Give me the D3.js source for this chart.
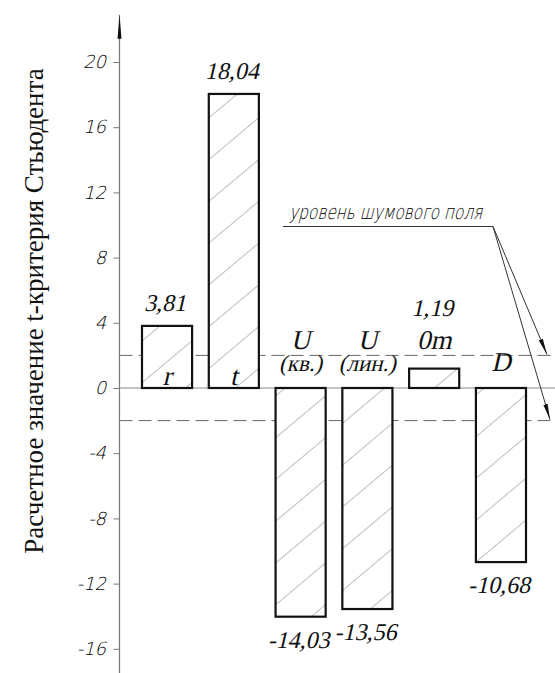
<!DOCTYPE html>
<html>
<head>
<meta charset="utf-8">
<script src="https://cdn.jsdelivr.net/npm/d3@7"></script>
<style>
  body { margin: 0; background: #fff; }
  .serif { font-family: "Liberation Serif", "Times New Roman", serif; }
  .gost { font-family: "DejaVu Sans", sans-serif; font-weight: 200; }
</style>
</head>
<body>
<div class="vis-tchart"></div>
<script>
// data
const categories = ['r', 't', 'U_kv', 'U_lin', 'Ot', 'D'];
const categoryLabels = [['r'], ['t'], ['U', '(кв.)'], ['U', '(лин.)'], ['0m'], ['D']];
const tValues = [3.81, 18.04, -14.03, -13.56, 1.19, -10.68];
const yTicks = [-16, -12, -8, -4, 0, 4, 8, 12, 16, 20];
const noiseLevel = [2, -2];
const noiseText = 'уровень шумового поля';
const yTitle = 'Расчетное значение t-критерия Стьюдента';

// fake italic: serif face skewed, since no italic serif face is installed
const slanted = (sel, px, py, txt, size) => {
    sel.append('g')
        .attr('transform', 'translate(' + px + ',' + py + ')')
        .append('text')
        .attr('class', 'serif')
        .attr('transform', 'skewX(-13)')
        .attr('text-anchor', 'middle')
        .style('font-size', size)
        .attr('fill', '#111')
        .text(txt);
};

const draw = () => {
    const width = 555, height = 673;
    const axisX = 119.5;

    const svg = d3.select('.vis-tchart')
        .append('svg')
        .attr('width', width)
        .attr('height', height);

    const defs = svg.append('defs');

    // hatching for the bars
    const hatch = defs.append('pattern')
        .attr('id', 'hatch')
        .attr('patternUnits', 'userSpaceOnUse')
        .attr('width', 32)
        .attr('height', 32)
        .attr('patternTransform', 'rotate(50)');
    hatch.append('rect').attr('width', 32).attr('height', 32).attr('fill', '#fff');
    hatch.append('line')
        .attr('x1', 0).attr('y1', 0).attr('x2', 0).attr('y2', 32)
        .attr('stroke', '#8a8a8a')
        .attr('stroke-width', 1.1);

    defs.append('marker')
        .attr('id', 'arrow')
        .attr('markerUnits', 'userSpaceOnUse')
        .attr('markerWidth', 16).attr('markerHeight', 6)
        .attr('refX', 16).attr('refY', 3)
        .attr('orient', 'auto')
        .append('path')
        .attr('d', 'M0,0.8 L16,3 L0,5.2 Z')
        .attr('fill', '#111');

    defs.append('marker')
        .attr('id', 'axisArrow')
        .attr('markerUnits', 'userSpaceOnUse')
        .attr('markerWidth', 24).attr('markerHeight', 8)
        .attr('refX', 24).attr('refY', 4)
        .attr('orient', 'auto')
        .append('path')
        .attr('d', 'M0,2 L24,4 L0,6 Z')
        .attr('fill', '#111');

    const y = d3.scaleLinear()
        .domain([-16, 20])
        .range([648.8, 62]);

    const x = d3.scaleBand()
        .domain(categories)
        .range([142, 526])
        .paddingInner(0.25)
        .paddingOuter(0);

    // y axis title
    svg.append('text')
        .attr('class', 'serif')
        .attr('transform', 'translate(43,311) rotate(-90)')
        .attr('text-anchor', 'middle')
        .style('font-size', '27px')
        .attr('fill', '#111')
        .text(yTitle);

    // axis line with arrow
    svg.append('line')
        .attr('x1', axisX).attr('y1', y(-17.6))
        .attr('x2', axisX).attr('y2', y(22.9))
        .attr('stroke', '#777')
        .attr('stroke-width', 1.2)
        .attr('marker-end', 'url(#axisArrow)');

    const yAxis = svg.append('g')
        .attr('transform', 'translate(' + axisX + ',0)')
        .call(d3.axisLeft(y).tickValues(yTicks).tickSize(6).tickPadding(6)
            .tickFormat(d => d3.format('d')(d).replace('−', '-')));
    yAxis.select('.domain').remove();
    yAxis.selectAll('.tick line').attr('stroke', '#777');
    yAxis.selectAll('.tick text')
        .attr('class', 'gost')
        .attr('fill', '#000')
        .attr('transform', 'skewX(-14)')
        .style('font-size', '18px');

    // zero line and noise level lines
    svg.append('line')
        .attr('x1', axisX).attr('x2', width)
        .attr('y1', y(0)).attr('y2', y(0))
        .attr('stroke', '#888')
        .attr('stroke-width', 1);

    svg.selectAll('.noise')
        .data(noiseLevel)
        .enter().append('line')
        .attr('class', 'noise')
        .attr('x1', axisX).attr('x2', width)
        .attr('y1', d => y(d)).attr('y2', d => y(d))
        .attr('stroke', '#666')
        .attr('stroke-width', 1)
        .attr('stroke-dasharray', '13,6');

    // bars
    svg.selectAll('.bar')
        .data(tValues)
        .enter().append('rect')
        .attr('class', 'bar')
        .attr('x', (d, i) => x(categories[i]))
        .attr('y', d => y(Math.max(0, d)))
        .attr('width', x.bandwidth())
        .attr('height', d => Math.abs(y(d) - y(0)))
        .attr('fill', 'url(#hatch)')
        .attr('stroke', '#111')
        .attr('stroke-width', 2.2);

    // category and value labels
    tValues.forEach((v, i) => {
        const cx = x(categories[i]) + x.bandwidth() / 2;
        const lines = categoryLabels[i];
        const barPx = y(0) - y(v);
        let base;
        if (v > 0 && barPx > 40) base = y(0) - 3;      // inside the bar
        else if (v > 0) base = y(v) - 20;              // above a short bar
        else base = y(0) - 17;                         // above zero for negatives
        lines.forEach((t, k) => {
            const size = lines.length > 1 && k === 1 ? '23px' : '27px';
            slanted(svg, cx, base - (lines.length - 1 - k) * 22, t, size);
        });

        let vy;
        if (v > 0 && barPx > 40) vy = y(v) - 15;
        else if (v > 0) vy = y(v) - 53;
        else vy = y(v) + 31;
        slanted(svg, cx - 2, vy, v.toFixed(2).replace('.', ','), '24px');
    });

    // noise level callout
    const callout = svg.append('g').attr('transform', 'translate(289,219)');
    callout.append('text')
        .attr('class', 'gost')
        .attr('transform', 'skewX(-14)')
        .attr('textLength', 193)
        .attr('lengthAdjust', 'spacingAndGlyphs')
        .style('font-size', '20px')
        .attr('fill', '#000')
        .text(noiseText);

    const lx = 493, ly = 226.5;
    svg.append('line')
        .attr('x1', 283).attr('y1', ly).attr('x2', lx).attr('y2', ly)
        .attr('stroke', '#333').attr('stroke-width', 1);

    svg.selectAll('.leader')
        .data(noiseLevel)
        .enter().append('line')
        .attr('class', 'leader')
        .attr('x1', lx).attr('y1', ly)
        .attr('x2', (d, i) => i === 0 ? 547 : 550)
        .attr('y2', d => y(d) - 1)
        .attr('stroke', '#333')
        .attr('stroke-width', 1)
        .attr('marker-end', 'url(#arrow)');
};

draw();
</script>
</body>
</html>
